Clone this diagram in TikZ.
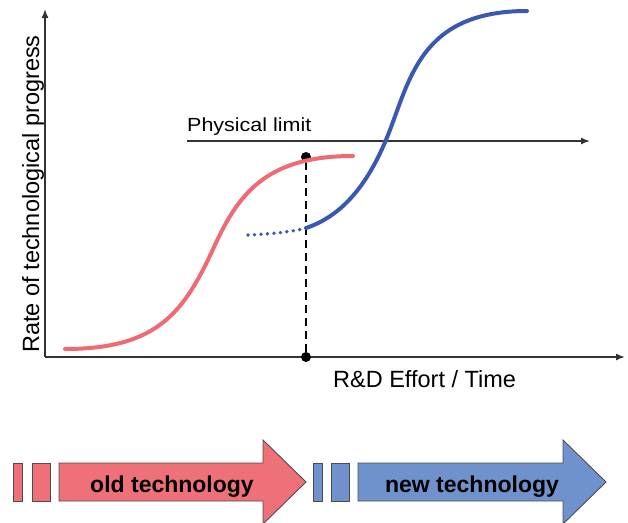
\documentclass[tikz,border=0pt]{standalone}
\usepackage{fontspec}
\setmainfont{Liberation Sans}
\usetikzlibrary{arrows.meta}

\definecolor{oldred}{RGB}{238,113,122}
\definecolor{newblue}{RGB}{112,146,204}
\definecolor{curvered}{RGB}{240,106,116}
\definecolor{curveblue}{RGB}{58,88,178}

\begin{document}
\begin{tikzpicture}[
        x = 1pt, y = -1pt,
        >= {Latex[length = 9pt, width = 7pt]},
        axis/.style = {draw = black!80, line width = 1.5pt, ->},
        scurve/.style = {line width = 4pt, line cap = round},
        dot/.style = {circle, fill = black, inner sep = 0pt, minimum size = 10pt},
        techbox/.style = {draw = black!70, line width = 0.9pt},
        axislabel/.style = {font = \fontsize{23.5}{28}\selectfont, inner sep = 0pt},
        techlabel/.style = {font = \bfseries\fontsize{23}{28}\selectfont, inner sep = 0pt}
    ]
    \useasboundingbox (0,0) rectangle (628,522);

    \coordinate (origin) at (45,357);
    \coordinate (ytop) at (45,9);
    \coordinate (xend) at (625,357);
    \coordinate (limitstart) at (187,141);
    \coordinate (limitend) at (590,141);
    \coordinate (redstart) at (65,349);
    \coordinate (redend) at (353,156);
    \coordinate (bluestart) at (248,235);
    \coordinate (blueend) at (527,11);

    \draw[axis] (origin) -- (ytop);
    \draw[axis] (origin) -- (xend);
    \draw[axis] (limitstart) -- (limitend);

    \node[axislabel, rotate = 90, anchor = base] (ylabel) at (39,194) {Rate of technological progress};
    \node[axislabel, anchor = base west] (xlabel) at (333,387) {R\&D Effort / Time};
    \node[axislabel, anchor = base west, font = \fontsize{19}{23}\selectfont] (limitlabel) at (187,131)
        {\scalebox{1.13}[1]{Physical limit}};

    \node[dot] (cross) at (306,157) {};
    \node[dot] (crossfoot) at (306,357) {};
    \draw[line width = 2.8pt, dash pattern = on 8pt off 5pt] (cross) -- (crossfoot);

    \draw[scurve, curvered] (redstart) .. controls (160,349) and (185,310) .. (215,245)
        .. controls (240,190) and (270,156) .. (redend);
    \draw[curveblue, line width = 3.8pt, line cap = round, dash pattern = on 0pt off 6.5pt]
        (bluestart) .. controls (275,234) and (295,231) .. (306,228);
    \draw[scurve, curveblue] (306,228) .. controls (345,215) and (370,180) .. (388,135)
        .. controls (410,80) and (420,11) .. (blueend);

    \draw[techbox, fill = oldred] (13,463) rectangle (22,501);
    \draw[techbox, fill = oldred] (32,463) rectangle (50,501);
    \draw[techbox, fill = oldred] (59,463) -- (263,463) -- (263,440) -- (306,482)
        -- (263,524) -- (263,501) -- (59,501) -- cycle;
    \node[techlabel, anchor = base] (oldlabel) at (172,492) {old technology};

    \draw[techbox, fill = newblue] (313,463) rectangle (322,501);
    \draw[techbox, fill = newblue] (331,463) rectangle (349,501);
    \draw[techbox, fill = newblue] (358,463) -- (563,463) -- (563,440) -- (606,482)
        -- (563,524) -- (563,501) -- (358,501) -- cycle;
    \node[techlabel, anchor = base] (newlabel) at (472,492) {new technology};
\end{tikzpicture}
\end{document}
